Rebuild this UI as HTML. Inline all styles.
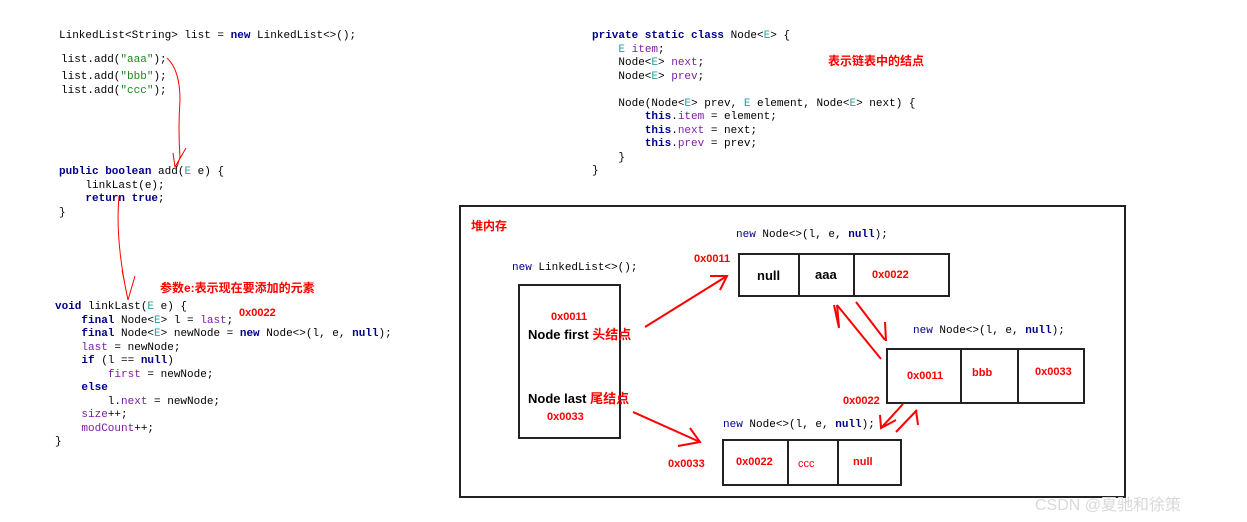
<!DOCTYPE html>
<html><head><meta charset="utf-8"><style>
body{margin:0;width:1247px;height:522px;background:#fff;position:relative;overflow:hidden;font-family:"Liberation Mono",monospace;}
.c{position:absolute;font-size:11px;line-height:13.5px;white-space:pre;color:#000;}
.k{color:#00008b;font-weight:bold}.p{color:#7b1fa2}.s{color:#1a8a1a}.t{color:#2aa0a0}
.r{position:absolute;color:#f00;font-family:"Liberation Sans","Noto Sans CJK SC",sans-serif;font-weight:bold;font-size:11px;white-space:nowrap}
.b{position:absolute;font-family:"Liberation Sans","Noto Sans CJK SC",sans-serif;font-weight:bold;font-size:13px;white-space:nowrap}
.box{position:absolute;border:2px solid #222;box-sizing:border-box}
</style></head><body>
<div class="c" style="left:59px;top:30px">LinkedList&lt;String&gt; list = <span class="k">new</span> LinkedList&lt;&gt;();</div>
<div class="c" style="left:61px;top:54px">list.add(<span class="s">"aaa"</span>);</div>
<div class="c" style="left:61px;top:71px">list.add(<span class="s">"bbb"</span>);
list.add(<span class="s">"ccc"</span>);</div>
<div class="c" style="left:59px;top:166px"><span class="k">public boolean</span> add(<span class="t">E</span> e) {
    linkLast(e);
    <span class="k">return true</span>;
}</div>
<div class="c" style="left:55px;top:301px"><span class="k">void</span> linkLast(<span class="t">E</span> e) {
    <span class="k">final</span> Node&lt;<span class="t">E</span>&gt; l = <span class="p">last</span>;
    <span class="k">final</span> Node&lt;<span class="t">E</span>&gt; newNode = <span class="k">new</span> Node&lt;&gt;(l, e, <span class="k">null</span>);
    <span class="p">last</span> = newNode;
    <span class="k">if</span> (l == <span class="k">null</span>)
        <span class="p">first</span> = newNode;
    <span class="k">else</span>
        l.<span class="p">next</span> = newNode;
    <span class="p">size</span>++;
    <span class="p">modCount</span>++;
}</div>
<div class="r" style="left:160px;top:279px;font-size:12px">参数e:表示现在要添加的元素</div>
<div class="r" style="left:239px;top:307px">0x0022</div>
<div class="c" style="left:592px;top:30px"><span class="k">private static class</span> Node&lt;<span class="t">E</span>&gt; {
    <span class="t">E</span> <span class="p">item</span>;
    Node&lt;<span class="t">E</span>&gt; <span class="p">next</span>;
    Node&lt;<span class="t">E</span>&gt; <span class="p">prev</span>;

    Node(Node&lt;<span class="t">E</span>&gt; prev, <span class="t">E</span> element, Node&lt;<span class="t">E</span>&gt; next) {
        <span class="k">this</span>.<span class="p">item</span> = element;
        <span class="k">this</span>.<span class="p">next</span> = next;
        <span class="k">this</span>.<span class="p">prev</span> = prev;
    }
}</div>
<div class="r" style="left:828px;top:52px;font-size:12px">表示链表中的结点</div>

<div class="box" style="left:459px;top:205px;width:667px;height:293px"></div>
<div class="r" style="left:471px;top:217px;font-size:12px">堆内存</div>
<div class="c" style="left:512px;top:262px"><span class="k" style="font-weight:normal">new</span> LinkedList&lt;&gt;();</div>
<div class="box" style="left:518px;top:284px;width:103px;height:155px"></div>
<div class="r" style="left:551px;top:311px">0x0011</div>
<div class="b" style="left:528px;top:324px">Node first <span style="color:#f00">头结点</span></div>
<div class="b" style="left:528px;top:388px">Node last <span style="color:#f00">尾结点</span></div>
<div class="r" style="left:547px;top:411px">0x0033</div>

<div class="c" style="left:736px;top:229px"><span class="k" style="font-weight:normal">new</span> Node&lt;&gt;(l, e, <span class="k">null</span>);</div>
<div class="r" style="left:694px;top:253px">0x0011</div>
<div class="box" style="left:738px;top:253px;width:212px;height:44px"></div>
<div style="position:absolute;left:798px;top:254px;width:2px;height:42px;background:#222"></div>
<div style="position:absolute;left:853px;top:254px;width:2px;height:42px;background:#222"></div>
<div class="b" style="left:757px;top:268px">null</div>
<div class="b" style="left:815px;top:267px">aaa</div>
<div class="r" style="left:872px;top:269px">0x0022</div>

<div class="c" style="left:913px;top:325px"><span class="k" style="font-weight:normal">new</span> Node&lt;&gt;(l, e, <span class="k">null</span>);</div>
<div class="box" style="left:886px;top:348px;width:199px;height:56px"></div>
<div style="position:absolute;left:960px;top:350px;width:2px;height:53px;background:#222"></div>
<div style="position:absolute;left:1017px;top:350px;width:2px;height:53px;background:#222"></div>
<div class="r" style="left:907px;top:370px">0x0011</div>
<div class="r" style="left:972px;top:367px">bbb</div>
<div class="r" style="left:1035px;top:366px">0x0033</div>
<div class="r" style="left:843px;top:395px">0x0022</div>

<div class="c" style="left:723px;top:419px"><span class="k" style="font-weight:normal">new</span> Node&lt;&gt;(l, e, <span class="k">null</span>);</div>
<div class="box" style="left:722px;top:439px;width:180px;height:47px"></div>
<div style="position:absolute;left:787px;top:441px;width:2px;height:44px;background:#222"></div>
<div style="position:absolute;left:837px;top:441px;width:2px;height:44px;background:#222"></div>
<div class="r" style="left:736px;top:456px">0x0022</div>
<div class="r" style="left:798px;top:458px;font-weight:normal">ccc</div>
<div class="r" style="left:853px;top:456px">null</div>
<div class="r" style="left:668px;top:458px">0x0033</div>

<svg width="1247" height="522" style="position:absolute;left:0;top:0" fill="none" stroke="#f00" stroke-width="1">
<path d="M167 58 Q180 70 180 100 Q178 130 180 157 L177 167 M173 153 L175 167 L186 148"/>
<path d="M119 196 Q115 240 128 300 M122 270 L128 300 L135 276"/>
<g stroke-width="2">
<path d="M645 327 L727 276 M710 276 L727 276 L720 290"/>
<path d="M633 412 L700 442 M690 428 L700 442 L678 446"/>
<path d="M881 359 L837 305 M834 305 L839 328 M837 305 L839 327"/>
<path d="M856 302 L885 340 M885 322 L886 341"/>
<path d="M903 404 L882 427 M880 415 L881 428 L896 420"/>
<path d="M896 432 L917 410 M916 410 L918 425"/>
</g>
</svg>
<div style="position:absolute;left:1035px;top:491px;color:#d8d8d8;font-family:'Liberation Sans','Noto Sans CJK SC',sans-serif;font-size:16px">CSDN @夏驰和徐策</div>
</body></html>
